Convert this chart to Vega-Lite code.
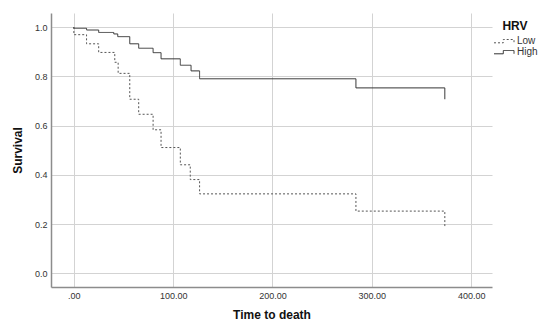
{
  "$schema": "https://vega.github.io/schema/vega-lite/v6.json",
  "width": 441,
  "height": 274,
  "autosize": {"type": "none"},
  "padding": {"left": 51, "top": 13, "right": 58, "bottom": 41},
  "background": "white",
  "config": {
    "view": {"stroke": null},
    "font": "Liberation Sans",
    "axis": {
      "gridColor": "#d3d3d3",
      "gridWidth": 1,
      "domainColor": "#8c8c8c",
      "domainWidth": 1.5,
      "ticks": false,
      "labelFont": "Liberation Sans",
      "labelFontSize": 9,
      "labelColor": "#333333",
      "labelPadding": 4,
      "titleFont": "Liberation Sans",
      "titleFontSize": 12,
      "titleFontWeight": "bold",
      "titleColor": "#111111"
    }
  },
  "data": {
    "values": [
      {"t": 0, "s": 1.0, "g": "High"},
      {"t": 0, "s": 0.995, "g": "High"},
      {"t": 12.8, "s": 0.988, "g": "High"},
      {"t": 25, "s": 0.978, "g": "High"},
      {"t": 40.2, "s": 0.972, "g": "High"},
      {"t": 44.2, "s": 0.961, "g": "High"},
      {"t": 56.3, "s": 0.932, "g": "High"},
      {"t": 65.3, "s": 0.914, "g": "High"},
      {"t": 79.8, "s": 0.896, "g": "High"},
      {"t": 87.8, "s": 0.871, "g": "High"},
      {"t": 107.2, "s": 0.845, "g": "High"},
      {"t": 118, "s": 0.822, "g": "High"},
      {"t": 126.6, "s": 0.79, "g": "High"},
      {"t": 284, "s": 0.753, "g": "High"},
      {"t": 373.5, "s": 0.753, "g": "High"},
      {"t": 373.5, "s": 0.707, "g": "High"},
      {"t": 0, "s": 1.0, "g": "Low"},
      {"t": 0, "s": 0.969, "g": "Low"},
      {"t": 12.8, "s": 0.932, "g": "Low"},
      {"t": 25, "s": 0.897, "g": "Low"},
      {"t": 41.2, "s": 0.857, "g": "Low"},
      {"t": 44.6, "s": 0.812, "g": "Low"},
      {"t": 56.3, "s": 0.707, "g": "Low"},
      {"t": 65.3, "s": 0.646, "g": "Low"},
      {"t": 79.8, "s": 0.583, "g": "Low"},
      {"t": 87.8, "s": 0.511, "g": "Low"},
      {"t": 107.2, "s": 0.441, "g": "Low"},
      {"t": 117.2, "s": 0.381, "g": "Low"},
      {"t": 126.6, "s": 0.323, "g": "Low"},
      {"t": 284, "s": 0.253, "g": "Low"},
      {"t": 373.5, "s": 0.253, "g": "Low"},
      {"t": 373.5, "s": 0.185, "g": "Low"}
    ]
  },
  "mark": {"type": "line", "interpolate": "step-after", "strokeWidth": 1},
  "encoding": {
    "x": {
      "field": "t", "type": "quantitative",
      "scale": {"domain": [-23, 421], "nice": false, "zero": false},
      "axis": {
        "values": [0, 100, 200, 300, 400],
        "labelExpr": "datum.value == 0 ? '.00' : format(datum.value, '.2f')",
        "title": "Time to death",
        "titlePadding": 9
      }
    },
    "y": {
      "field": "s", "type": "quantitative",
      "scale": {"domain": [-0.055, 1.057], "nice": false, "zero": false},
      "axis": {
        "values": [0, 0.2, 0.4, 0.6, 0.8, 1.0],
        "format": ".1f",
        "title": "Survival",
        "titlePadding": 10
      }
    },
    "color": {
      "field": "g", "type": "nominal",
      "sort": ["Low", "High"],
      "scale": {"domain": ["Low", "High"], "range": ["#555555", "#333333"]},
      "legend": {
        "title": "HRV",
        "orient": "none",
        "legendX": 441,
        "legendY": 8,
        "titleAnchor": "middle",
        "titleAlign": "center",
        "titleFont": "Liberation Sans",
        "titleFontSize": 12,
        "titleFontWeight": "bold",
        "titleColor": "#111111",
        "titlePadding": 3,
        "labelFont": "Liberation Sans",
        "labelFontSize": 10,
        "labelColor": "#333333",
        "labelOffset": 15,
        "rowPadding": 1,
        "symbolType": "M-1,0.6L2.1,0.6L2.1,-0.5L5.67,-0.5L5.67,0.6",
        "symbolSize": 36,
        "symbolStrokeWidth": 1,
        "symbolFillColor": "transparent"
      }
    },
    "strokeDash": {
      "field": "g", "type": "nominal",
      "sort": ["Low", "High"],
      "scale": {"domain": ["Low", "High"], "range": [[2, 2], [1, 0]]}
    }
  }
}
